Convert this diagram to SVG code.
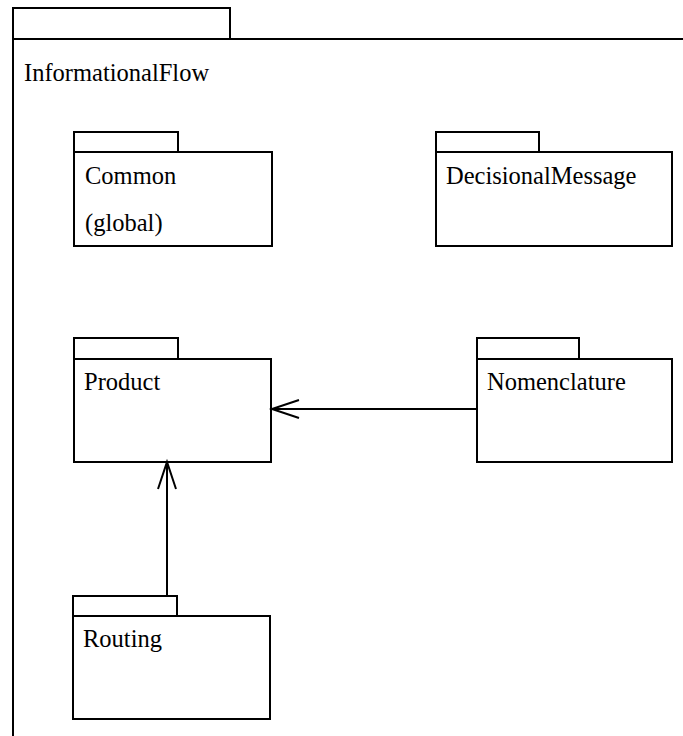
<svg xmlns="http://www.w3.org/2000/svg" width="683" height="736" viewBox="0 0 683 736">
<style>
.b{fill:#fff;stroke:#000;stroke-width:2}
.t{font-family:'Liberation Serif','Times New Roman',serif;font-size:24.5px;fill:#000}
.c{stroke:#000;stroke-width:2;fill:none}
</style>
<rect width="683" height="736" fill="#fff"/>
<g id="InformationalFlow">
<path class="c" d="M13 736 V8 H230 V39"/>
<path class="c" d="M13 39 H683"/>
<text class="t" x="24" y="81">InformationalFlow</text>
</g>
<g id="Common">
<rect class="b" x="74" y="132" width="104" height="20"/>
<rect class="b" x="74" y="152" width="198" height="94"/>
<text class="t" x="85" y="184">Common</text>
<text class="t" x="85" y="231">(global)</text>
</g>
<g id="DecisionalMessage">
<rect class="b" x="436" y="132" width="103" height="20"/>
<rect class="b" x="436" y="152" width="236" height="94"/>
<text class="t" x="446" y="184">DecisionalMessage</text>
</g>
<g id="Product">
<rect class="b" x="74" y="338" width="104" height="21"/>
<rect class="b" x="74" y="359" width="197" height="103"/>
<text class="t" x="84" y="390">Product</text>
</g>
<g id="Nomenclature">
<rect class="b" x="477" y="338" width="102" height="21"/>
<rect class="b" x="477" y="359" width="195" height="103"/>
<text class="t" x="487" y="390">Nomenclature</text>
</g>
<g id="Routing">
<rect class="b" x="73" y="596" width="104" height="20"/>
<rect class="b" x="73" y="616" width="197" height="103"/>
<text class="t" x="83" y="647">Routing</text>
</g>
<g id="connectors">
<path class="c" d="M477 409 H272"/>
<path class="c" d="M299 400 L272 409 L299 418"/>
<path class="c" d="M167 596 V462"/>
<path class="c" d="M158 489 L167 462 L176 489"/>
</g>
</svg>
